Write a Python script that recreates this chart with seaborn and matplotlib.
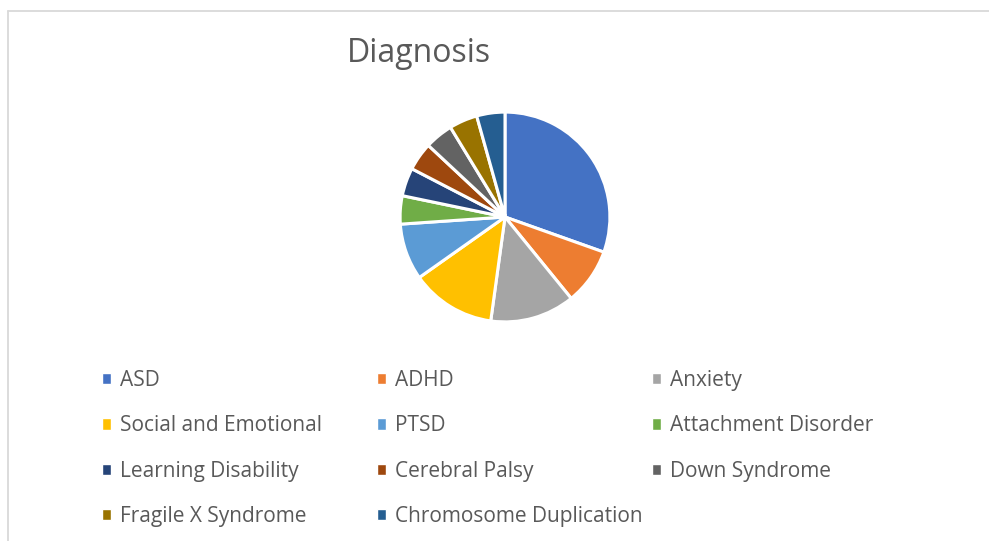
import matplotlib
matplotlib.use("Agg")
import matplotlib.pyplot as plt
from matplotlib.lines import Line2D
from matplotlib.patches import Rectangle
import seaborn as sns

# Diagnosis counts
labels = ["ASD", "ADHD", "Anxiety", "Social and Emotional", "PTSD",
          "Attachment Disorder", "Learning Disability", "Cerebral Palsy",
          "Down Syndrome", "Fragile X Syndrome", "Chromosome Duplication"]
counts = [7, 2, 3, 3, 2, 1, 1, 1, 1, 1, 1]
colors = ["#4472C4", "#ED7D31", "#A5A5A5", "#FFC000", "#5B9BD5", "#70AD47",
          "#264478", "#9E480E", "#636363", "#997300", "#255E91"]

sns.set_style("white")
plt.rcParams["font.family"] = ["Open Sans", "DejaVu Sans"]
palette = sns.color_palette(colors)

W, H = 989, 541
fig = plt.figure(figsize=(W / 100, H / 100), dpi=100)

# pie axes: centre ~ (505, 217) px, radius ~ 106 px
cx, cy, r = 505, 217, 107
ax = fig.add_axes([(cx - r) / W, (H - cy - r) / H, 2 * r / W, 2 * r / H])
wedges, _ = ax.pie(counts, colors=palette, startangle=90, counterclock=False,
                   wedgeprops=dict(edgecolor="white", linewidth=2.2))
ax.set_xlim(-1.02, 1.02)
ax.set_ylim(-1.02, 1.02)
ax.set_aspect("equal")
ax.axis("off")

# chart frame (top and left edges visible)
frame_col = "#d9d9d9"
fig.add_artist(Line2D([8 / W, 1.0], [1 - 11 / H, 1 - 11 / H], color=frame_col, lw=1.3))
fig.add_artist(Line2D([8 / W, 8 / W], [0, 1 - 11 / H], color=frame_col, lw=1.3))

fig.text(419 / W, 1 - 53 / H, "Diagnosis", ha="center", va="center",
         fontsize=23, color="#595959")

# legend: 3 columns, filled row by row, one legend per column
ncol = 3
col_x = [102, 377, 652]
for c in range(ncol):
    idx = list(range(c, len(labels), ncol))
    handles = [Rectangle((0, 0), 1, 1, facecolor=colors[i]) for i in idx]
    leg = fig.legend(handles, [labels[i] for i in idx],
                     loc="upper left", bbox_to_anchor=(col_x[c] / W, 1 - 370 / H),
                     frameon=False, fontsize=15, labelcolor="#595959",
                     handlelength=0.45, handleheight=0.45, handletextpad=0.42,
                     labelspacing=1.17, borderpad=0, borderaxespad=0)

fig.savefig("out.png", dpi=100)
